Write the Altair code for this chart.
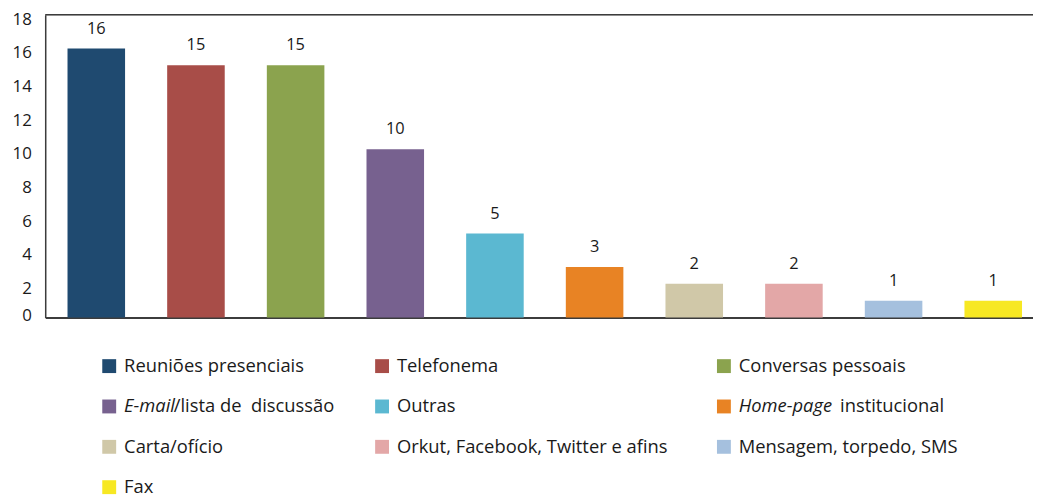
import altair as alt
import pandas as pd

categories = [
    "Reuniões presenciais", "Telefonema", "Conversas pessoais",
    "E-mail/lista de discussão", "Outras", "Home-page institucional",
    "Carta/ofício", "Orkut, Facebook, Twitter e afins",
    "Mensagem, torpedo, SMS", "Fax",
]
values = [16, 15, 15, 10, 5, 3, 2, 2, 1, 1]
colors = [
    "#1F4A70", "#A84D48", "#8BA34E", "#77618F", "#5BB8D1",
    "#E88324", "#D0C8A8", "#E3A7A7", "#A5C0DE", "#F7E823",
]
legend_italic = ["", "", "", "E-mail", "", "Home-page", "", "", "", ""]
legend_roman = [
    "Reuniões presenciais", "Telefonema", "Conversas pessoais",
    "/lista de\u00a0 discussão", "Outras", "institucional",
    "Carta/ofício", "Orkut, Facebook, Twitter e afins",
    "Mensagem, torpedo, SMS", "Fax",
]
y_ticks = [0, 2, 4, 6, 8, 10, 12, 14, 16, 18]

FONT = "Open Sans"
TXT = "#1a1a1a"
LINE = "#3c3c3c"

df = pd.DataFrame({"cat": categories, "value": values})
leg = pd.DataFrame({
    "cat": categories,
    "italic": legend_italic,
    "roman": legend_roman,
    "col": [i % 3 for i in range(len(categories))],
    "row": [i // 3 for i in range(len(categories))],
})

xscale = alt.Scale(domain=categories, paddingInner=0.4225, paddingOuter=0.167, align=0.67)
yscale = alt.Scale(domain=[0, 18], nice=False, zero=True)
cscale = alt.Scale(domain=categories, range=colors)

xaxis = alt.Axis(labels=False, ticks=False, title=None, domainColor=LINE, domainWidth=2)
yaxis = alt.Axis(values=y_ticks, ticks=False, grid=False, labelPadding=14, title=None,
                 labelOverlap=False, labelFlush=False,
                 labelOffset=alt.condition("datum.value == 0", alt.value(-1.5), alt.value(4.5)),
                 labelFontSize=17, labelFont=FONT, labelColor=TXT,
                 domainColor=LINE, domainWidth=1.5)

base = alt.Chart(df)
bars = base.mark_bar().encode(
    x=alt.X("cat:N", sort=categories, scale=xscale, axis=xaxis),
    y=alt.Y("value:Q", scale=yscale, axis=yaxis),
    color=alt.Color("cat:N", scale=cscale, legend=None),
)
labels = base.mark_text(dy=-15, baseline="alphabetic", fontSize=16.5, font=FONT, color=TXT).encode(
    x=alt.X("cat:N", sort=categories, scale=xscale, axis=xaxis),
    y=alt.Y("value:Q", scale=yscale, axis=yaxis),
    text="value:Q",
)
top_rule = base.mark_rule(color=LINE, strokeWidth=1.5).encode(
    y=alt.Y("top:Q", scale=yscale, axis=yaxis)
).transform_calculate(top="18").transform_filter("datum.cat == 'Fax'")

plot = alt.layer(bars, labels, top_rule)

lx = alt.Scale(domain=[0, 1, 2], range=[64.5, 339.5, 684], zero=False, nice=False)
ly = alt.Scale(domain=[0, 3], range=[354, 476], zero=False, nice=False)
lbase = alt.Chart(leg)
enc = dict(
    x=alt.X("col:Q", scale=lx, axis=None),
    y=alt.Y("row:Q", scale=ly, axis=None),
)
swatch = lbase.mark_square(size=196, opacity=1).encode(
    color=alt.Color("cat:N", scale=cscale, legend=None), **enc
)
tstyle = dict(align="left", baseline="middle", fontSize=18.5, font=FONT, color=TXT)
t_plain = lbase.mark_text(dx=15, **tstyle).encode(text="roman:N", **enc).transform_filter("datum.italic == ''")
t_ital = lbase.mark_text(dx=15, fontStyle="italic", **tstyle).encode(
    text="italic:N", **enc).transform_filter("datum.italic != ''")
t_r1 = lbase.mark_text(dx=65, **tstyle).encode(text="roman:N", **enc).transform_filter("datum.italic == 'E-mail'")
t_r2 = lbase.mark_text(dx=117, **tstyle).encode(text="roman:N", **enc).transform_filter("datum.italic == 'Home-page'")

legend = alt.layer(swatch, t_plain, t_ital, t_r1, t_r2)

chart = alt.layer(plot, legend).resolve_scale(
    x="independent", y="independent", color="shared"
).properties(
    width=995.5, height=305,
    padding={"left": 37.5, "top": 5, "right": 0, "bottom": 180},
    autosize=alt.AutoSizeParams(type="none"),
).configure_view(stroke=None).configure(font=FONT).configure_axis(labelOverlap=False)

chart.save("out.html", embed_options={"renderer": "svg", "actions": False})
